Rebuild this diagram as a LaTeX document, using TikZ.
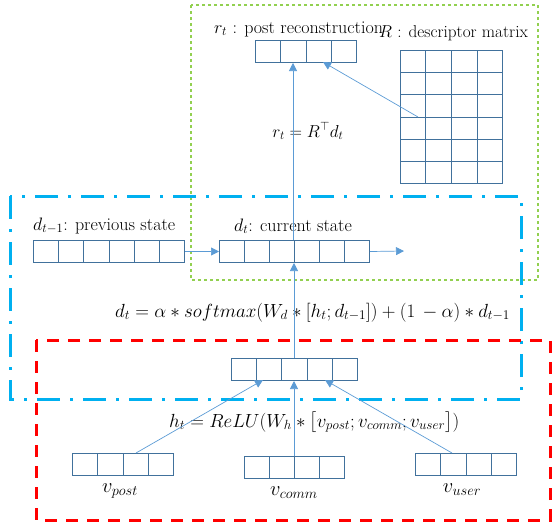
\RequirePackage{fix-cm}
\documentclass[tikz,border=0pt]{standalone}
\usepackage{amsmath}
\usetikzlibrary{arrows.meta,calc}
\definecolor{cellc}{HTML}{41719C}
\definecolor{arrc}{HTML}{5B9BD5}
\definecolor{grn}{HTML}{92D050}
\definecolor{cyanb}{HTML}{00B0F0}
\tikzset{
  cellbox/.style={draw=cellc, line width=1pt, inner sep=0pt, anchor=north west},
  cellline/.style={draw=cellc, line width=1pt},
  arr/.style={draw=arrc, line width=0.7pt, -{Triangle[length=8pt,width=8pt]}},
  lbl/.style={inner sep=0pt, font=\fontsize{18}{21}\selectfont},
  lbls/.style={inner sep=0pt, font=\fontsize{17.2}{21}\selectfont},
  eqr/.style={inner sep=0pt, font=\fontsize{17.3}{21}\selectfont},
  eqn/.style={inner sep=0pt, font=\fontsize{19}{23}\selectfont},
  veclbl/.style={inner sep=0pt, font=\fontsize{20.5}{24}\selectfont},
  greenbox/.style={draw=grn, line width=2.6pt, dash pattern=on 2.6pt off 3.4pt},
  bluebox/.style={draw=cyanb, line width=3pt, dash pattern=on 23pt off 10pt on 3pt off 10pt},
  redbox/.style={draw=red, line width=3pt, dash pattern=on 12pt off 9pt},
}
\newcommand{\vecrow}[6]{%
  \node[cellbox, minimum width=#4pt, minimum height=#5pt] (#1) at (#2,#3) {};
  \foreach \i in {1,...,\numexpr#6-1\relax}{
    \draw[cellline] ($(#1.north west)!\i/#6!(#1.north east)$) -- ($(#1.south west)!\i/#6!(#1.south east)$);
  }}
\begin{document}
\begin{tikzpicture}[x=1pt,y=-1pt]
\useasboundingbox (0,0) rectangle (552,525);
% frames
\draw[greenbox] (191,5) rectangle (538,280);
\draw[bluebox] (10,196) rectangle (521,399);
\draw[redbox] (36,340) rectangle (550,520);

% r_t vector
\vecrow{rt}{255}{40}{101}{22}{4}
% descriptor matrix
\node[cellbox, minimum width=102pt, minimum height=133pt] (R) at (400,50) {};
\foreach \i in {1,2,3}{
  \draw[cellline] ($(R.north west)!\i/4!(R.north east)$) -- ($(R.south west)!\i/4!(R.south east)$);}
\foreach \j in {1,...,5}{
  \draw[cellline] ($(R.north west)!\j/6!(R.south west)$) -- ($(R.north east)!\j/6!(R.south east)$);}
\coordinate (Rin) at (418,117);

% middle vectors
\vecrow{dprev}{33}{240}{151}{22}{6}
\vecrow{dcur}{219}{240}{150}{22}{6}
\coordinate (dout) at (404,251);

% h_t
\vecrow{ht}{231}{358}{126}{22}{5}

% inputs
\vecrow{vpost}{72}{453}{101}{22}{4}
\vecrow{vcomm}{244}{456}{100}{22}{4}
\vecrow{vuser}{415}{453}{101}{22}{4}

% labels
\node[lbl, anchor=base west] (lrt) at (214,33) {$r_t$ : post reconstruction};
\node[lbls, anchor=base west] (lR) at (379,37) {$R$ : descriptor matrix};
\node[lbl, anchor=base west] (ldprev) at (33,230) {$d_{t-1}$: previous state};
\node[lbl, anchor=base west] (ldcur) at (234,231) {$d_t$: current state};
\node[eqr, anchor=base] (eqrt) at (308,137) {$r_t = R^{\top} d_t$};
\node[eqn, anchor=base west] (eqd) at (115,317) {$d_t = \alpha \ast softmax(W_d \ast [h_t; d_{t-1}]) + (1\,-\alpha) \ast d_{t-1}$};
\node[eqn, anchor=base west] (eqh) at (169,427) {$h_t = ReLU(W_h \ast \bigl[v_{post}; v_{comm}; v_{user}\bigr])$};
\node[veclbl, anchor=base] (lvpost) at (120,492) {$v_{post}$};
\node[veclbl, anchor=base] (lvcomm) at (294,495) {$v_{comm}$};
\node[veclbl, anchor=base] (lvuser) at (462,492) {$v_{user}$};

% connectors
\draw[arr] (dcur.north -| 293,0) -- (rt.south -| 293,0);
\draw[arr] (Rin) -- (323,62);
\draw[arr] (dprev.east) -- (dcur.west);
\draw[arr] (dcur.east) -- (dout);
\draw[arr] (ht.north -| 294,0) -- (dcur.south -| 294,0);
\draw[arr] (136,453) -- (263,380);
\draw[arr] (vcomm.north -| 294,0) -- (ht.south -| 294,0);
\draw[arr] (452,453) -- (325,380);
\end{tikzpicture}
\end{document}
